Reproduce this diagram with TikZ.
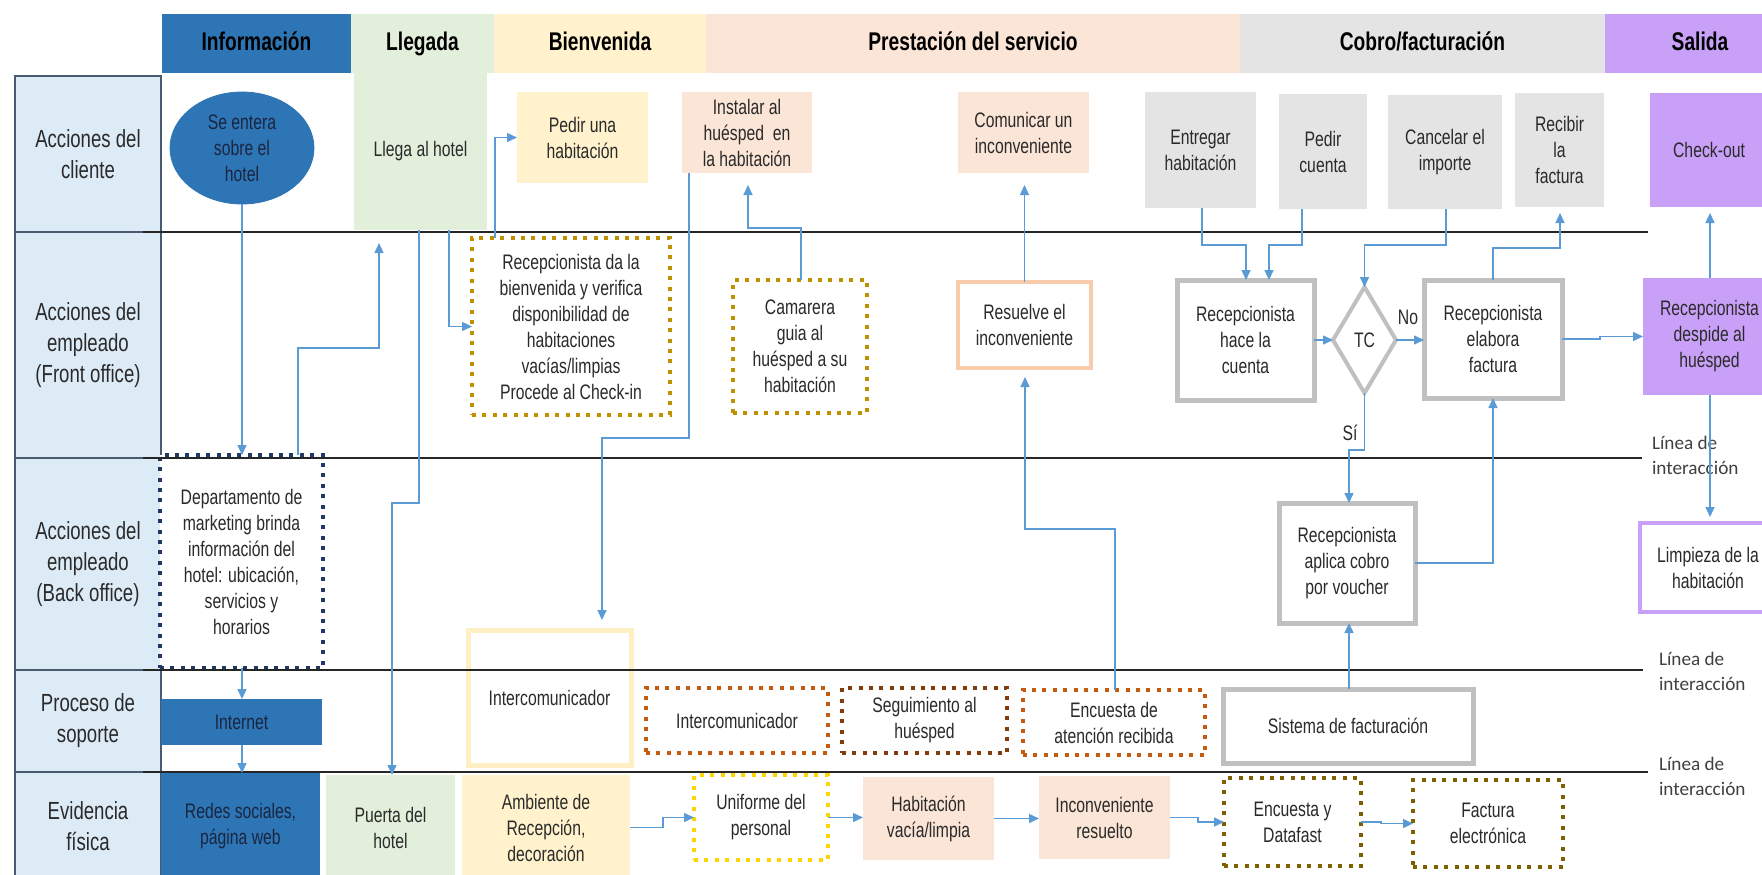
\documentclass[tikz,border=0pt]{standalone}
\usepackage{fontspec}
\setmainfont{Liberation Sans}[FakeStretch=0.75]
\newfontfamily\linfont{Carlito}
\usetikzlibrary{arrows.meta,shapes.geometric,calc}
\definecolor{dblue}{HTML}{2E75B6}
\definecolor{lgreen}{HTML}{E2EFDA}
\definecolor{lyellow}{HTML}{FFF2CC}
\definecolor{lpeach}{HTML}{FBE5D6}
\definecolor{lgray}{HTML}{E4E4E4}
\definecolor{lpurple}{HTML}{C9A0F8}
\definecolor{lblue}{HTML}{DDEBF7}
\definecolor{lborder}{HTML}{4A5A70}
\definecolor{txt}{HTML}{2A2A2A}
\definecolor{dtxt}{HTML}{1A2540}
\definecolor{cblue}{HTML}{5B9BD5}
\definecolor{gold}{HTML}{BF9000}
\definecolor{navy}{HTML}{1F3864}
\definecolor{orangeb}{HTML}{C55A11}
\definecolor{brownb}{HTML}{843C0C}
\definecolor{oliveb}{HTML}{7F6000}
\definecolor{yellowd}{HTML}{FFD500}
\definecolor{gborder}{HTML}{C0C0C0}
\definecolor{peachb}{HTML}{F8CBAD}
\definecolor{lyb}{HTML}{FFF0C4}
\definecolor{sepc}{HTML}{262626}
\definecolor{lintxt}{HTML}{404040}
\newcommand\fsbox{\fontsize{10.5}{13}\selectfont}
\newcommand\fslab{\fontsize{12.4}{15.5}\selectfont}
\newcommand\fshead{\fontsize{12.8}{15}\selectfont}
\newcommand\mkbox[7]{\node[#2, minimum width={(#5-#3)*0.5pt}, minimum height={(#6-#4)*0.5pt}] (#1) at ({(#3+#5)/2},{(#4+#6)/2}) {#7};}
\begin{document}
\begin{tikzpicture}[x=0.5pt,y=-0.5pt,
  every node/.style={inner sep=0pt, outer sep=0pt, align=center, font=\fsbox, text=txt},
  conn/.style={draw=cblue, line width=0.7pt, -{Triangle[length=5pt,width=4.5pt]}},
  hdr/.style={fill=#1, draw=none, font={\fshead\bfseries}, text=black, text height=9.2pt, text depth=2.6pt},
  lab/.style={fill=lblue, draw=lborder, line width=1.2pt, font=\fslab},
  fillbox/.style={fill=#1, draw=none},
  dotbox/.style={draw=#1, fill=white, line width=2pt, dash pattern=on 2pt off 3.2pt},
  gbox/.style={draw=gborder, fill=white, line width=2.5pt},
  sep/.style={draw=sepc, line width=0.9pt},
  lin/.style={font={\linfont\fontsize{9.6}{12.5}\selectfont}, align=left, anchor=west, text=lintxt}
]
\useasboundingbox (0,0) rectangle (1762,874);
\fill[white] (0,0) rectangle (1762,874);
\clip (0,0) rectangle (1762,874);

% headers
\mkbox{h1}{hdr=dblue}{162}{14}{351}{73}{Información}
\mkbox{h2}{hdr=lgreen}{351}{14}{494}{73}{Llegada}
\mkbox{h3}{hdr=lyellow}{494}{14}{706}{73}{Bienvenida}
\mkbox{h4}{hdr=lpeach}{706}{14}{1240}{73}{Prestación del servicio}
\mkbox{h5}{hdr=lgray}{1240}{14}{1605}{73}{Cobro/facturación}
\mkbox{h6}{hdr=lpurple}{1605}{14}{1795}{73}{Salida}

% row labels
\mkbox{L1}{lab}{15}{76}{161}{232}{Acciones del\\cliente}
\mkbox{L2}{lab}{15}{232}{161}{458}{Acciones del\\empleado\\(Front office)}
\mkbox{L3}{lab}{15}{458}{161}{670}{Acciones del\\empleado\\(Back office)}
\mkbox{L4}{lab}{15}{670}{161}{772}{Proceso de\\soporte}
\mkbox{L5}{lab}{15}{772}{161}{880}{Evidencia\\física}

% row 1
\node[ellipse, fill=dblue, draw=dblue, minimum width=72pt, minimum height=56pt, text=dtxt] (ell) at (242,148) {Se entera\\sobre el\\hotel};
\mkbox{llega}{fillbox=lgreen}{354}{73}{487}{230}{Llega al hotel}
\mkbox{pedir}{fillbox=lyellow}{517}{92}{648}{183}{Pedir una\\habitación}
\mkbox{instalar}{fillbox=lpeach}{682}{92}{812}{173}{Instalar al\\huésped\ \ en\\la habitación}
\mkbox{comunicar}{fillbox=lpeach}{958}{92}{1089}{173}{Comunicar un\\inconveniente}
\mkbox{entregar}{fillbox=lgray}{1145}{92}{1256}{208}{Entregar\\habitación}
\mkbox{pcuenta}{fillbox=lgray}{1279}{94}{1367}{209}{Pedir\\cuenta}
\mkbox{cancelar}{fillbox=lgray}{1388}{95}{1502}{209}{Cancelar el\\importe}
\mkbox{recibir}{fillbox=lgray}{1515}{93}{1604}{207}{Recibir\\la\\factura}
\mkbox{checkout}{fillbox=lpurple}{1650}{93}{1768}{207}{Check-out}

% row 2
\mkbox{recep}{dotbox=gold}{472}{238}{670}{415}{Recepcionista da la\\bienvenida y verifica\\disponibilidad de\\habitaciones\\vacías/limpias\\Procede al Check-in}
\mkbox{camarera}{dotbox=gold}{733}{280}{867}{413}{Camarera\\guia al\\huésped a su\\habitación}
\mkbox{resuelve}{draw=peachb, fill=white, line width=2pt}{958}{282}{1091}{368}{Resuelve el\\inconveniente}
\mkbox{hace}{gbox}{1177}{280}{1314}{400}{Recepcionista\\hace la\\cuenta}
\node[diamond, draw=gborder, line width=2pt, fill=white, minimum width=31.5pt, minimum height=53pt] (tc) at (1364.5,340) {TC};
\mkbox{elabora}{gbox}{1424}{280}{1562}{398}{Recepcionista\\elabora\\factura}
\mkbox{despide}{fillbox=lpurple}{1643}{278}{1776}{395}{Recepcionista\\despide al\\huésped}

% row 3
\mkbox{dept}{dotbox=navy}{160}{455}{323}{668}{Departamento de\\marketing brinda\\información del\\hotel: ubicación,\\servicios y\\horarios}
\mkbox{icom1}{draw=lyb, line width=2.5pt}{468}{630}{631}{765}{Intercomunicador}
\mkbox{aplica}{gbox}{1279}{503}{1415}{623}{Recepcionista\\aplica cobro\\por voucher}
\mkbox{limpieza}{draw=lpurple, fill=white, line width=2pt}{1640}{523}{1776}{612}{Limpieza de la\\habitación}

% row 4
\mkbox{internet}{fillbox=dblue, text=dtxt}{161}{699}{322}{745}{Internet}
\mkbox{icom2}{dotbox=orangeb}{646}{688}{828}{753}{Intercomunicador}
\mkbox{seguim}{dotbox=brownb}{842}{688}{1007}{753}{Seguimiento al\\huésped}
\mkbox{encatt}{dotbox=orangeb}{1023}{690}{1205}{755}{Encuesta de\\atención recibida}
\mkbox{sistema}{gbox}{1223}{689}{1473}{763}{Sistema de facturación}

% row 5
\mkbox{redes}{fillbox=dblue, text=dtxt}{161}{773}{320}{880}{Redes sociales,\\página web}
\mkbox{puerta}{fillbox=lgreen}{326}{775}{455}{880}{Puerta del\\hotel}
\mkbox{ambiente}{fillbox=lyellow}{462}{775}{630}{880}{Ambiente de\\Recepción,\\decoración}
\mkbox{uniforme}{dotbox=yellowd}{694}{775}{828}{860}{Uniforme del\\personal}
\mkbox{habit}{fillbox=lpeach}{863}{777}{994}{860}{Habitación\\vacía/limpia}
\mkbox{inconv}{fillbox=lpeach}{1039}{776}{1170}{859}{Inconveniente\\resuelto}
\mkbox{encdat}{dotbox=oliveb}{1224}{778}{1361}{866}{Encuesta y\\Datafast}
\mkbox{factura}{dotbox=oliveb}{1413}{780}{1563}{867}{Factura\\electrónica}

% separator lines
\draw[sep] (143,232) -- (1648,232);
\draw[sep] (143,458) -- (1642,458);
\draw[sep] (143,670) -- (1643,670);
\draw[sep] (143,772) -- (1648,772);

\node[lin] (lin1) at (1652,455) {Línea de\\interacción};
\node[lin] (lin2) at (1659,671) {Línea de\\interacción};
\node[lin] (lin3) at (1659,776) {Línea de\\interacción};

\node (no) at (1408,317) {No};
\node (si) at (1350,433) {Sí};

% x helper coordinates
\foreach \xx in {242,298,379,392,419,449,495,602,689,748,801,1025,1115,1202,1246,1269,1302,1349,1446,1493,1560,1710}
  {\coordinate (X\xx) at (\xx,0);}

% connectors
\draw[conn] (ell.south) -- (ell.south |- dept.north);
\draw[conn, shorten >=6.5pt] (dept.north -| X298) |- (379,348) -- (llega.south -| X379);
\draw[conn] (llega.south -| X419) |- (392,503) -- (puerta.north -| X392);
\draw[conn] (llega.south -| X449) |- (recep.west);
\draw[conn] (recep.north -| X495) |- (pedir.west);
\draw[conn, shorten >=5pt] (instalar.south -| X689) |- (602,438) -- (icom1.north -| X602);
\draw[conn, shorten >=6pt] (camarera.north -| X801) |- (748,228) -- (instalar.south -| X748);
\draw[conn, shorten >=6pt] (resuelve.north) -- (resuelve.north |- comunicar.south);
\draw[conn, shorten >=4.5pt] (encatt.north -| X1115) |- (1025,529) -- (resuelve.south -| X1025);
\draw[conn] (entregar.south -| X1202) |- (1246,245) -- (hace.north -| X1246);
\draw[conn] (pcuenta.south -| X1302) |- (1269,245) -- (hace.north -| X1269);
\draw[conn] (cancelar.south -| X1446) |- (1364.5,245) -- (tc.north);
\draw[conn, shorten >=3pt] (elabora.north -| X1493) |- (1560,248) -- (recibir.south -| X1560);
\draw[conn] (hace.east) -- (tc.west);
\draw[conn] (tc.east) -- (elabora.west |- tc.east);
\draw[conn] (tc.south) |- (1349,450) -- (aplica.north -| X1349);
\draw[conn] (sistema.north -| X1349) -- (aplica.south -| X1349);
\draw[conn] (aplica.east) -| (elabora.south -| X1493);
\draw[conn] (elabora.east) -- ++(38,0) |- (despide.west);
\draw[conn, shorten >=3pt] (despide.north -| X1710) -- (checkout.south -| X1710);
\draw[conn, shorten >=3pt] (despide.south -| X1710) -- (limpieza.north -| X1710);
\draw[conn] (dept.south -| X242) -- (internet.north -| X242);
\draw[conn] (internet.south -| X242) -- (redes.north -| X242);
\draw[conn] (ambiente.east) -- ++(33,0) |- (uniforme.west);
\draw[conn] (uniforme.east) -- (uniforme.east -| habit.west);
\draw[conn] (habit.east) -- (habit.east -| inconv.west);
\draw[conn] (inconv.east) -- ++(28,0) |- (encdat.west);
\draw[conn] (encdat.east) -- ++(20,0) |- (factura.west);
\end{tikzpicture}
\end{document}
